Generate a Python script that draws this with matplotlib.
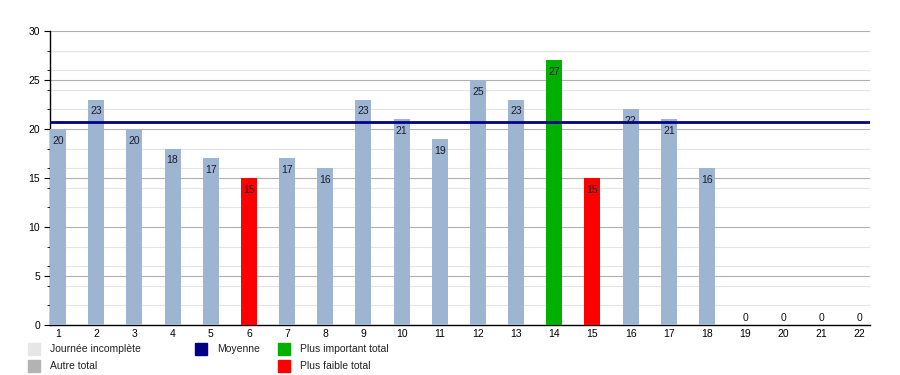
import matplotlib
matplotlib.use("Agg")
import matplotlib.pyplot as plt
from matplotlib.patches import Rectangle
import numpy as np

plt.rcParams['font.family'] = ['Liberation Sans', 'DejaVu Sans']

days = list(range(1, 23))
values = [20, 23, 20, 18, 17, 15, 17, 16, 23, 21, 19, 25, 23, 27, 15, 22, 21, 16, 0, 0, 0, 0]
mean_value = 20.7
highest_day = 14
lowest_days = [6, 15]

legend_labels = ["Journée incomplète", "Autre total", "Moyenne", "Plus important total", "Plus faible total"]

c_bar = "#9db5d0"
c_high = "#00b000"
c_low = "#ff0000"
c_mean = "#000088"

fig = plt.figure(figsize=(9, 3.75), dpi=100)
ax = fig.add_axes([50/900, 1-325/375, 820/900, 294/375])

colors = []
for d in days:
    if d == highest_day:
        colors.append(c_high)
    elif d in lowest_days:
        colors.append(c_low)
    else:
        colors.append(c_bar)

ax.bar(days, values, width=0.42, color=colors, zorder=3, edgecolor='none')

ax.axhline(mean_value, color=c_mean, lw=2.0, zorder=4)

for d, v in zip(days, values):
    if v > 0:
        ax.text(d, v - 1.2, str(v), ha='center', va='center', fontsize=7.5, color='#1a1a2e', zorder=5)
    else:
        ax.text(d, 0.75, str(v), ha='center', va='center', fontsize=7.5, color='#111111', zorder=5)

ax.set_xlim(0.79, 22.27)
ax.set_ylim(0, 30)
ax.set_xticks(days)
ax.set_xticklabels([str(d) for d in days])
ax.set_yticks(np.arange(0, 31, 5))
ax.set_yticks(np.arange(0, 31, 2), minor=True)
ax.tick_params(axis='x', length=0, labelsize=7.5, pad=3)
ax.tick_params(axis='y', which='major', length=4, labelsize=7.5, pad=3, direction='out')
ax.tick_params(axis='y', which='minor', length=2, direction='out')

ax.grid(axis='y', which='major', color='#b0b0b0', lw=0.8, zorder=1)
ax.grid(axis='y', which='minor', color='#e4e4e4', lw=0.8, zorder=0)
ax.set_axisbelow(True)

for s in ['top', 'right']:
    ax.spines[s].set_visible(False)
ax.spines['left'].set_color('black')
ax.spines['bottom'].set_color('black')
ax.spines['left'].set_linewidth(1.0)
ax.spines['bottom'].set_linewidth(1.0)

# legend
leg_colors = ["#e6e6e6", "#b3b3b3", c_mean, c_high, c_low]
leg_pos = [(28, 343), (28, 360), (195, 343), (278, 343), (278, 360)]
for lab, col, (px, py) in zip(legend_labels, leg_colors, leg_pos):
    fig.patches.append(Rectangle((px/900, 1-(py+12)/375), 12/900, 12/375,
                                 transform=fig.transFigure, color=col, zorder=5))
    fig.text((px+22)/900, 1-(py+6)/375, lab, fontsize=7.5, va='center', ha='left', color='#222222')

fig.savefig("out.png", dpi=100)
